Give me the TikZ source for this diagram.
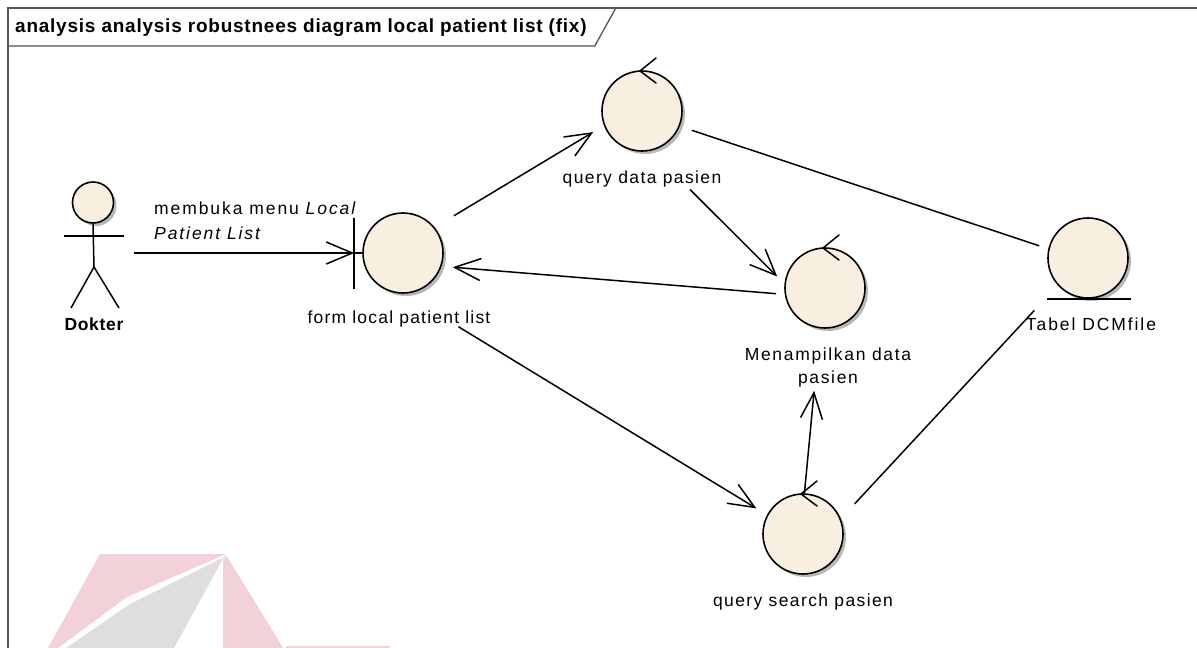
\documentclass[tikz,border=0pt]{standalone}
\usepackage{fontspec}
\setmainfont{Liberation Sans}[LetterSpace=9]
\usetikzlibrary{arrows.meta,shadows}
\definecolor{objfill}{HTML}{F9EFE1}
\definecolor{framegray}{HTML}{555555}
\definecolor{wmpink}{HTML}{F2D2D7}
\definecolor{wmgray}{HTML}{DEDEDE}
\tikzset{
  ctrlmark/.pic={\draw[line width=1.5pt, line cap=round] (14,-53) -- (-2,-40) -- (14,-28);}
}
\newcommand{\spacing}[1]{\addfontfeatures{LetterSpace=#1}}
\begin{document}
\begin{tikzpicture}[x=1pt,y=-1pt,
  every node/.style={font=\fontsize{17.5}{23}\selectfont},
  objshadow/.style={drop shadow={shadow xshift=3pt, shadow yshift=-3pt, fill=black!28, opacity=1}},
  robj/.style={circle, draw=black, line width=1.6pt, fill=objfill, minimum size=80pt, inner sep=0pt, objshadow},
  lbl/.style={inner sep=0pt, align=center},
  link/.style={line width=1.5pt},
  msg/.style={link, -{Straight Barb[length=26pt,width=22pt]}},
]
\useasboundingbox (0,0) rectangle (1197,648);

% faint logo in the lower left corner
\fill[wmpink] (100,554) -- (226,554) -- (127,597) -- (58,648) -- (48,648) -- cycle;
\fill[wmgray] (224,557) -- (130,604) -- (66,648) -- (174,648) -- cycle;
\fill[wmpink] (226,555) -- (279,641) -- (283,648) -- (223,648) -- (223,560) -- cycle;
\fill[wmpink] (286,646) rectangle (390,648);

% diagram frame with its name tab
\draw[framegray, line width=1.6pt] (8,648) -- (8,8) -- (1197,8);
\node[font=\fontsize{19}{22}\selectfont\bfseries\spacing{4}, anchor=west, inner sep=0pt] (title) at (15,28)
  {analysis analysis robustnees diagram local patient list (fix)};
\coordinate (tabedge) at ([xshift=8pt]title.east);
\draw[framegray, line width=1.3pt] (8,46) -- (tabedge |- 0,46) -- ([xshift=21pt]tabedge |- 0,8);

% actor
\node[minimum width=60pt, minimum height=125pt, inner sep=0pt] (dokter) at (94,245.5) {};
\begin{scope}[shift={(dokter.center)}]
  \node[circle, draw=black, line width=1.6pt, fill=objfill, minimum size=41pt, inner sep=0pt, objshadow] (dhead) at (-1,-43) {};
  \draw[link] (dhead.south) -- (0,21.5);
  \draw[link] (-30,-9.5) -- (30,-9.5);
  \draw[link] (-23,62.5) -- (0,21.5) -- (25,62.5);
\end{scope}
\node[lbl, font=\fontsize{17.5}{21}\selectfont\bfseries\spacing{4}] (dlbl) at (94,324) {Dokter};

% boundary
\node[robj] (form) at (403,253) {};
\draw[link] (form.west) -- ++(-8,0) coordinate (formbar);
\draw[link] ([yshift=35.5pt]formbar) -- ([yshift=-35.5pt]formbar);
\node[lbl, font=\fontsize{17.5}{23}\selectfont\spacing{7}] (formlbl) at (399,319) {form local patient list};

% controls
\node[robj] (qdata) at (642,111) {};
\pic at (qdata) {ctrlmark};
\node[lbl, font=\fontsize{17.5}{23}\selectfont\spacing{8}] (qdatalbl) at (642,179) {query data pasien};

\node[robj] (menamp) at (825,288) {};
\pic at (menamp) {ctrlmark};
\node[lbl, font=\fontsize{17.5}{23}\selectfont\spacing{9.5}] (menamplbl) at (828,367) {Menampilkan data\\pasien};

\node[robj] (qsearch) at (803,534) {};
\pic at (qsearch) {ctrlmark};
\node[lbl, font=\fontsize{17.5}{23}\selectfont\spacing{8}] (qsearchlbl) at (803,602) {query search pasien};

% entity
\node[robj] (tabel) at (1088,258) {};
\draw[link] ([xshift=-41pt]tabel.south) -- ([xshift=43pt]tabel.south);
\node[lbl, font=\fontsize{17.5}{23}\selectfont\spacing{11}] (tabellbl) at (1091,324) {Tabel DCMfile};

% connectors
\draw[msg, shorten <=10pt, shorten >=8pt] (dokter.east |- form.west) -- (form.west);
\node[lbl, align=left, anchor=west, font=\fontsize{17.5}{25}\selectfont\spacing{11}] (msglbl) at (154,221)
  {membuka menu \textit{Local}\\\textit{Patient List}};

\draw[msg, shorten <=22.4pt, shorten >=12.5pt] (form.39.6) -- (qdata.201.4);
\draw[msg, shorten <=55pt, shorten >=10.2pt] (qdata.-77) -- (menamp.174.5);
\draw[link, shorten <=12.6pt, shorten >=9.5pt] (qdata.-22.1) -- (tabel.167);
\draw[msg, shorten <=8.6pt, shorten >=11.2pt] (menamp.189.7) -- (form.-19.1);
\draw[msg, shorten <=63.3pt, shorten >=12.4pt] (form.-88.6) -- (qsearch.152.4);
\draw[msg, shorten >=62.6pt] (qsearch.88.6) -- (menamp.-97);
\draw[link, shorten <=20.4pt, shorten >=34.3pt] (qsearch.22.1) -- (tabel.222.3);
\end{tikzpicture}
\end{document}
